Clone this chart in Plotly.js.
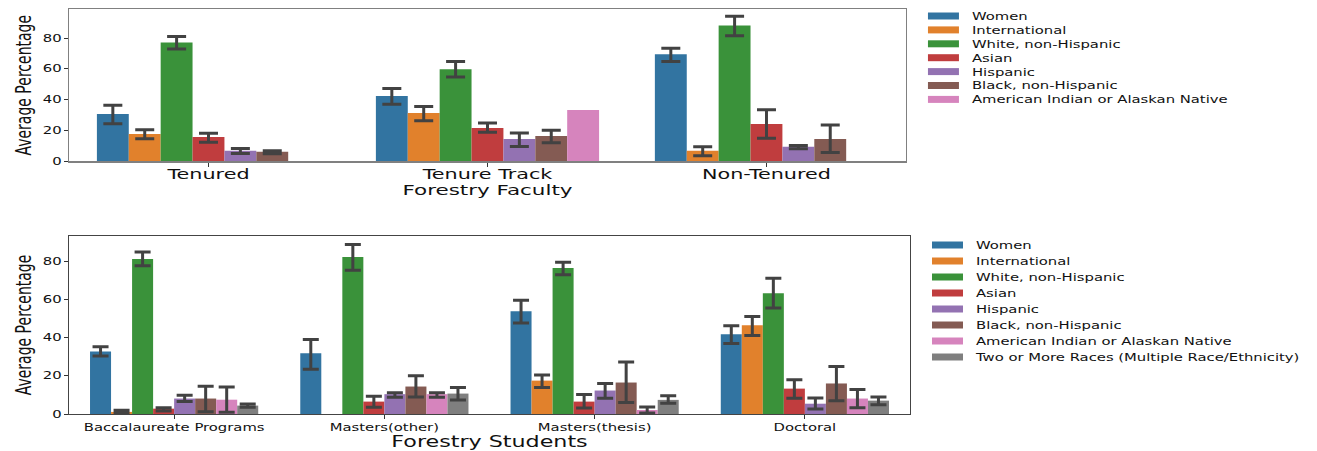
<!DOCTYPE html>
<html><head><meta charset="utf-8">
<script src="https://cdn.plot.ly/plotly-3.0.1.min.js"></script>
<style>html,body{margin:0;padding:0;background:#fff}</style>
</head><body><div id="chart" style="width:1317px;height:451px"></div>
<script>
// ---------------- DATA ----------------
const facultyCategories = ['Tenured', 'Tenure Track', 'Non-Tenured'];
const studentCategories = ['Baccalaureate Programs', 'Masters(other)', 'Masters(thesis)', 'Doctoral'];
const groupNames = ['Women', 'International', 'White, non-Hispanic', 'Asian', 'Hispanic',
  'Black, non-Hispanic', 'American Indian or Alaskan Native', 'Two or More Races (Multiple Race/Ethnicity)'];
const groupColors = ['#3274a1', '#e1812c', '#3a923a', '#c03d3e', '#9372b2', '#845b53', '#d684bd', '#7f7f7f'];

// Faculty: one row per group (first 7 groups), one column per faculty category
const facultyMean = [
  [30.8, 42.4, 69.5],
  [17.9, 31.4, 6.9],
  [77.2, 59.8, 88.2],
  [15.9, 21.7, 24.3],
  [6.9, 14.6, 9.5],
  [6.3, 16.6, 14.6],
  [null, 33.4, null]
];
const facultyLow = [
  [24.5, 37.2, 64.8],
  [14.8, 26.5, 3.7],
  [72.9, 54.8, 81.5],
  [12.5, 19.0, 15.1],
  [5.2, 9.7, 8.2],
  [5.0, 12.1, 5.8],
  [null, null, null]
];
const facultyHigh = [
  [36.4, 47.3, 73.5],
  [20.6, 35.7, 9.5],
  [81.1, 64.8, 94.2],
  [18.3, 25.0, 33.5],
  [8.4, 18.5, 10.3],
  [6.9, 20.3, 23.7],
  [null, null, null]
];

// Students: one row per group (8 groups), one column per student category
const studentMean = [
  [32.8, 31.8, 53.9, 41.8],
  [1.1, null, 17.5, 46.5],
  [81.2, 82.3, 76.5, 63.3],
  [2.8, 6.5, 6.5, 13.3],
  [8.1, 10.4, 12.3, 5.4],
  [8.1, 14.4, 16.5, 16.0],
  [7.5, 10.4, 2.1, 8.1],
  [4.4, 10.7, 7.4, 7.0]
];
const studentLow = [
  [30.4, 23.5, 47.7, 37.0],
  [0.4, null, 13.9, 41.2],
  [77.7, 75.3, 73.0, 55.6],
  [1.6, 3.5, 3.2, 8.2],
  [6.5, 8.8, 8.2, 2.6],
  [1.2, 8.9, 6.0, 7.0],
  [0.9, 8.8, 0.5, 3.3],
  [3.5, 7.4, 5.6, 4.9]
];
const studentHigh = [
  [35.3, 39.1, 59.6, 46.3],
  [1.9, null, 20.5, 51.1],
  [84.9, 88.9, 79.5, 71.1],
  [3.3, 9.3, 10.2, 17.9],
  [9.8, 11.1, 16.0, 8.4],
  [14.6, 20.0, 27.2, 24.9],
  [14.2, 11.1, 3.7, 12.8],
  [5.3, 13.9, 9.6, 8.9]
];
const yTickValues = [0, 20, 40, 60, 80];

// ---------------- BUILD ----------------
const ERR = '#424242';
function errPlus(m, h) { return m.map((v, i) => (v == null || h[i] == null) ? NaN : h[i] - v); }
function errMinus(m, l) { return m.map((v, i) => (v == null || l[i] == null) ? NaN : v - l[i]); }

const traces = [];
facultyMean.forEach((m, g) => {
  traces.push({
    type: 'bar', name: groupNames[g], x: facultyCategories, y: m,
    xaxis: 'x', yaxis: 'y', legend: 'legend',
    marker: { color: groupColors[g], line: { width: 0 } },
    error_y: { type: 'data', symmetric: false, array: errPlus(m, facultyHigh[g]),
      arrayminus: errMinus(m, facultyLow[g]), color: ERR, thickness: 3, width: 9.5 },
    hoverinfo: 'skip'
  });
});
studentMean.forEach((m, g) => {
  traces.push({
    type: 'bar', name: groupNames[g], x: studentCategories, y: m,
    xaxis: 'x2', yaxis: 'y2', legend: 'legend2',
    marker: { color: groupColors[g], line: { width: 0 } },
    error_y: { type: 'data', symmetric: false, array: errPlus(m, studentHigh[g]),
      arrayminus: errMinus(m, studentLow[g]), color: ERR, thickness: 3, width: 8 },
    hoverinfo: 'skip'
  });
});

const FONT = 'DejaVu Sans, Verdana, sans-serif';
const axisCommon = {
  showline: true, mirror: true, linewidth: 1.3, showgrid: false, zeroline: false,
  ticks: 'outside', ticklen: 4, tickwidth: 1, tickcolor: '#333', automargin: false
};
const layout = {
  width: 1317, height: 451,
  margin: { l: 69, r: 407, t: 9, b: 37, pad: 0 },
  paper_bgcolor: '#ffffff', plot_bgcolor: '#ffffff',
  barmode: 'group', bargap: 0.2, bargroupgap: 0,
  font: { family: FONT, color: '#111111' },
  showlegend: true,
  xaxis: Object.assign({}, axisCommon, {
    domain: [0, 0.9952], anchor: 'y', type: 'category', range: [-0.5, 2.5], linecolor: '#808080',
    ticklabelstandoff: -5,
    tickfont: { size: 14 }, title: { text: 'Forestry Faculty', font: { size: 14.5 }, standoff: 4 }
  }),
  yaxis: Object.assign({}, axisCommon, {
    domain: [0.6235, 1], anchor: 'x', range: [0, 98.9], tickvals: yTickValues, linecolor: '#808080',
    tickfont: { size: 10 }, title: { text: 'Average Percentage', font: { size: 14 } }
  }),
  xaxis2: Object.assign({}, axisCommon, {
    domain: [0, 1], anchor: 'y2', type: 'category', range: [-0.5, 3.5], linecolor: '#444',
    tickfont: { size: 10 }, title: { text: 'Forestry Students', font: { size: 15 }, standoff: 8 }
  }),
  yaxis2: Object.assign({}, axisCommon, {
    domain: [0, 0.4395], anchor: 'x2', range: [0, 93.3], tickvals: yTickValues, linecolor: '#444',
    tickfont: { size: 10 }, title: { text: 'Average Percentage', font: { size: 14 } }
  }),
  legend: { x: 1.016, y: 1, xanchor: 'left', yanchor: 'top', bgcolor: 'rgba(0,0,0,0)',
    borderwidth: 0, font: { size: 10, family: FONT }, traceorder: 'normal' },
  legend2: { x: 1.0208, y: 0.4395, xanchor: 'left', yanchor: 'top', bgcolor: 'rgba(0,0,0,0)',
    borderwidth: 0, font: { size: 10, family: FONT }, traceorder: 'normal' }
};

const S = 1.48; // horizontal stretch of all text, as in the reference picture
const legendGeom = { legend: [7, 13.9], legend2: [9, 16] };

function stretchH(t) {
  const tr = t.getAttribute('transform') || '';
  if (tr.indexOf('scale(') >= 0) return;
  const x = parseFloat(t.getAttribute('x')) || 0;
  t.setAttribute('transform', `${tr} translate(${x},0) scale(${S},1) translate(${-x},0)`);
}
function finish() {
  const gd = document.getElementById('chart');
  // legends: wide flat swatches, tighter rows, no clipping
  gd.querySelectorAll('g.traces').forEach(tg => {
    let lg = tg.parentNode;
    while (lg && !(lg.classList && (lg.classList.contains('legend') || lg.classList.contains('legend2')))) lg = lg.parentNode;
    if (!lg) return;
    const key = lg.classList.contains('legend2') ? 'legend2' : 'legend';
    const sibs = Array.from(lg.querySelectorAll('g.traces'));
    const i = sibs.indexOf(tg);
    const [first, pitch] = legendGeom[key];
    tg.setAttribute('transform', `translate(0,${first + i * pitch})`);
    tg.querySelectorAll('.legendpoints path').forEach(p => {
      p.setAttribute('d', 'M-15.5,3.5H15.5V-3.5H-15.5Z');
      p.style.strokeWidth = '0px';
    });
    tg.querySelectorAll('text').forEach(t => {
      if ((t.getAttribute('transform') || '').indexOf('scale(') < 0) t.setAttribute('x', '48.5');
      stretchH(t);
    });
  });
  gd.querySelectorAll('g.legend, g.legend2').forEach(lg => {
    lg.querySelectorAll('[clip-path]').forEach(e => e.removeAttribute('clip-path'));
  });
  gd.querySelectorAll('.xtick text, .ytick text, .x2tick text, .y2tick text, .g-xtitle text, .g-x2title text')
    .forEach(stretchH);
  gd.querySelectorAll('.g-ytitle text, .g-y2title text').forEach(t => {
    const tr = t.getAttribute('transform') || '';
    if (tr.indexOf('scale(') >= 0) return;
    const x = parseFloat(t.getAttribute('x')) || 0;
    const y = parseFloat(t.getAttribute('y')) || 0;
    t.setAttribute('transform', `${tr} translate(${x},${y}) scale(1,${S}) translate(${-x},${-y})`);
  });
}

Plotly.newPlot('chart', traces, layout, { staticPlot: true, displayModeBar: false, responsive: false })
  .then(() => {
    finish();
    requestAnimationFrame(finish);
    setTimeout(finish, 50);
    setTimeout(finish, 300);
    setTimeout(finish, 1000);
  });
</script>
</body></html>
